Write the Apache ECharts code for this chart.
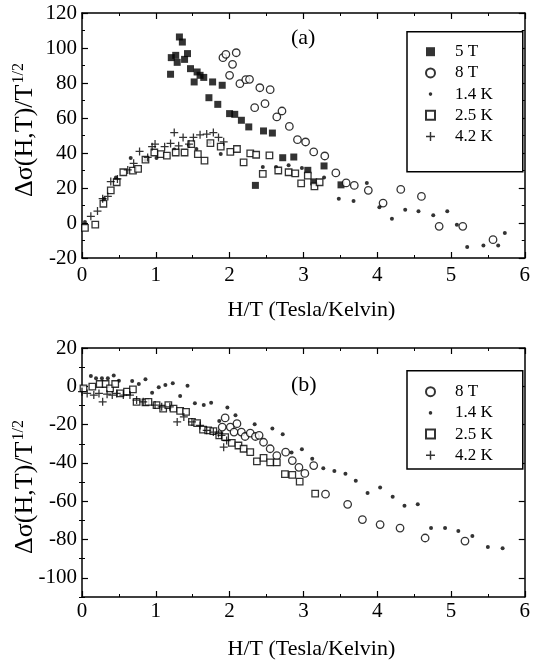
<!DOCTYPE html>
<html>
<head>
<meta charset="utf-8">
<script src="https://cdn.jsdelivr.net/npm/echarts@6/dist/echarts.min.js"></script>
<style>html,body{margin:0;padding:0;background:#fff}#c{width:533px;height:662px}</style>
</head>
<body>
<div id="c"></div>
<script>
// ---- Panel (a) data: [H/T, Δσ/T^1/2]
const a_5T = [[1.20,85.0],[1.21,94.5],[1.27,95.8],[1.29,91.8],[1.32,106.3],[1.36,103.4],[1.39,93.5],[1.43,96.8],[1.47,88.2],[1.52,80.6],[1.56,86.3],[1.60,84.4],[1.65,83.2],[1.77,80.6],[1.90,78.7],[1.72,71.6],[1.84,67.8],[2.00,62.5],[2.07,62.1],[2.16,58.7],[2.26,54.9],[2.46,52.6],[2.58,51.4],[2.35,21.5],[2.72,37.3],[2.87,37.7],[3.06,30.1],[3.14,23.5],[3.28,32.6],[3.51,21.8]];
const a_8T = [[1.91,94.5],[1.95,96.4],[2.09,97.3],[2.04,90.7],[2.00,84.4],[2.14,79.6],[2.22,81.9],[2.27,82.1],[2.41,77.3],[2.55,76.2],[2.34,65.9],[2.48,68.2],[2.64,60.6],[2.71,64.0],[2.81,55.2],[2.92,47.6],[3.03,46.3],[3.14,40.6],[3.29,38.3],[3.44,28.6],[3.58,22.9],[3.69,21.5],[3.88,18.7],[4.08,11.4],[4.32,19.2],[4.60,15.2],[4.84,-1.9],[5.16,-1.9],[5.57,-9.5]];
const a_14K = [[0.04,0.6],[0.30,13.9],[0.46,26.0],[0.66,37.2],[0.86,36.0],[1.01,37.2],[1.25,42.0],[1.45,44.5],[1.55,42.3],[1.73,46.0],[1.88,39.5],[2.45,32.0],[2.63,32.0],[2.80,33.0],[2.98,31.4],[3.28,26.0],[3.48,13.9],[3.68,12.6],[3.86,22.8],[4.03,9.0],[4.20,2.5],[4.38,7.6],[4.56,6.7],[4.76,4.4],[4.95,6.7],[5.08,-1.0],[5.22,-13.7],[5.44,-12.8],[5.64,-12.8],[5.73,-5.7]];
const a_25K = [[0.04,-2.8],[0.18,-0.9],[0.29,11.0],[0.39,18.6],[0.47,23.3],[0.56,29.0],[0.69,29.9],[0.76,30.9],[0.86,36.2],[0.98,40.3],[1.07,39.4],[1.15,38.5],[1.27,40.3],[1.39,40.3],[1.48,45.1],[1.57,39.4],[1.66,35.6],[1.74,45.7],[1.88,43.6],[2.01,40.7],[2.10,42.3],[2.19,34.7],[2.28,39.8],[2.36,39.0],[2.54,38.6],[2.45,28.1],[2.66,30.0],[2.80,29.0],[2.89,28.4],[2.97,22.7],[3.06,27.1],[3.15,20.9],[3.22,23.3]];
const a_42K = [[0.12,3.8],[0.21,6.8],[0.28,13.9],[0.35,15.2],[0.39,23.7],[0.48,25.2],[0.62,30.3],[0.70,34.1],[0.78,40.9],[0.89,37.5],[0.95,43.6],[0.99,45.1],[1.12,43.6],[1.20,45.5],[1.25,51.7],[1.31,44.1],[1.37,48.9],[1.45,45.1],[1.51,48.9],[1.60,50.4],[1.69,50.8],[1.78,51.7],[1.85,48.9],[1.92,46.4]];

// ---- Panel (b) data
const b_8T = [[1.90,-21.3],[1.94,-16.5],[2.01,-21.3],[2.06,-23.9],[2.10,-19.5],[2.16,-23.9],[2.21,-26.2],[2.28,-24.4],[2.35,-26.2],[2.40,-25.6],[2.46,-29.2],[2.55,-32.6],[2.64,-36.2],[2.76,-34.4],[2.85,-38.8],[2.94,-42.3],[3.02,-45.5],[3.14,-41.4],[3.30,-56.3],[3.60,-61.6],[3.80,-69.6],[4.04,-72.2],[4.31,-74.0],[4.65,-79.2],[5.19,-80.8]];
const b_14K = [[0.12,5.4],[0.19,4.2],[0.27,4.2],[0.35,4.2],[0.43,5.6],[0.50,2.9],[0.68,2.8],[0.77,1.2],[0.86,3.7],[0.95,-3.4],[1.04,-0.5],[1.13,0.7],[1.23,1.6],[1.33,-5.1],[1.43,0.3],[1.53,-8.9],[1.65,-9.8],[1.75,-8.6],[1.86,-18.1],[1.97,-11.1],[2.08,-15.1],[2.34,-19.8],[2.58,-22.0],[2.72,-25.0],[2.84,-34.5],[2.98,-32.8],[3.12,-37.8],[3.27,-42.8],[3.42,-44.2],[3.57,-45.6],[3.71,-49.3],[3.87,-55.7],[4.04,-52.8],[4.21,-57.7],[4.37,-62.4],[4.55,-61.6],[4.73,-74.0],[4.92,-74.0],[5.10,-75.5],[5.29,-78.2],[5.50,-83.9],[5.70,-84.5]];
const b_25K = [[0.02,-1.1],[0.14,-0.2],[0.24,1.2],[0.32,1.2],[0.38,-1.1],[0.45,1.2],[0.52,-3.7],[0.61,-2.8],[0.69,-1.6],[0.74,-8.1],[0.86,-8.4],[0.90,-8.1],[1.01,-9.8],[1.10,-11.6],[1.17,-9.8],[1.24,-11.6],[1.33,-12.8],[1.41,-13.4],[1.49,-18.6],[1.56,-19.2],[1.64,-22.6],[1.71,-23.0],[1.78,-23.4],[1.86,-25.6],[1.94,-26.5],[2.03,-29.5],[2.12,-30.9],[2.19,-32.6],[2.28,-34.4],[2.37,-39.2],[2.46,-37.4],[2.55,-39.7],[2.64,-39.7],[2.75,-45.8],[2.85,-46.2],[2.95,-49.8],[3.16,-56.0]];
const b_42K = [[0.00,-2.8],[0.07,-3.7],[0.16,-4.6],[0.23,-3.7],[0.28,-8.1],[0.34,-4.1],[0.41,-4.6],[0.47,-3.7],[0.56,-4.6],[0.65,-4.6],[0.74,-7.2],[0.83,-8.1],[0.99,-9.8],[1.08,-10.7],[1.19,-10.7],[1.29,-18.6],[1.38,-16.0],[1.49,-18.6],[1.60,-20.4],[1.69,-23.0],[1.78,-23.9],[1.85,-24.7],[1.89,-25.6],[1.92,-31.8],[1.96,-28.3]];

// ---- axis ticks / labels
const aYTicks = [-20,0,20,40,60,80,100,120];
const bYMajor = [-100,-80,-60,-40,-20,0,20];
const bYMinor = [-110,-90,-70,-50,-30,-10,10];
const legendA = ['5 T','8 T','1.4 K','2.5 K','4.2 K'];
const legendB = ['8 T','1.4 K','2.5 K','4.2 K'];
const xName = 'H/T (Tesla/Kelvin)';
const yNameMain = 'Δσ(H,T)/T';
const yNameSup = '1/2';

const SERIF = '"Liberation Serif","DejaVu Serif",serif';
const PLUS = 'path://M4.2,0H5.8V4.2H10V5.8H5.8V10H4.2V5.8H0V4.2H4.2Z';
const DOT_ICON = 'path://M0,0L0.001,0M10,10L10.001,10M5,3A2,2,0,1,1,5,7A2,2,0,1,1,5,3Z';

const styles = {
  '5 T':   {symbol:'rect', symbolSize:7, itemStyle:{color:'#000', borderWidth:0}},
  '8 T':   {symbol:'circle', symbolSize:7.5, itemStyle:{color:'#fff', borderColor:'#000', borderWidth:1.3}},
  '1.4 K': {symbol:'circle', symbolSize:4, itemStyle:{color:'#000', borderWidth:0}},
  '2.5 K': {symbol:'rect', symbolSize:6.5, itemStyle:{color:'#fff', borderColor:'#000', borderWidth:1.3}},
  '4.2 K': {symbol:PLUS, symbolSize:8, itemStyle:{color:'#000', borderWidth:0}}
};

const G = [
  {left:82, top:13, width:446, height:245},
  {left:82, top:348, width:446, height:249}
];

const lineS = {show:true, onZero:false, lineStyle:{color:'#000', width:1.5}};
const labelS = {color:'#000', fontFamily:SERIF, fontSize:21};

function xAx(grid, pos, showLabel, name, margin){
  const o = {
    type:'value', gridIndex:grid, position:pos, min:0, max:6, interval:1,
    axisLine:lineS,
    axisTick:{show:true, inside:true, length:6, lineStyle:{color:'#000', width:1.2}},
    minorTick:{show:true, splitNumber:2, length:3, lineStyle:{color:'#000', width:1}},
    splitLine:{show:false},
    axisLabel: showLabel ? Object.assign({margin:margin}, labelS) : {show:false}
  };
  if (name) {
    o.name = name; o.nameLocation = 'middle'; o.nameGap = 41;
    o.nameTextStyle = {color:'#000', fontFamily:SERIF, fontSize:22, padding:[0,0,0,16]};
  }
  return o;
}

const yAxes = [
  {
    type:'value', gridIndex:0, position:'left', min:-20, max:120, interval:20,
    axisLine:lineS,
    axisTick:{show:true, inside:true, length:6, lineStyle:{color:'#000', width:1.2}},
    minorTick:{show:true, splitNumber:2, length:3, lineStyle:{color:'#000', width:1}},
    splitLine:{show:false},
    axisLabel:Object.assign({margin:5, customValues:aYTicks}, labelS)
  },
  {
    type:'value', gridIndex:0, position:'right', min:-20, max:120, interval:20,
    axisLine:lineS,
    axisTick:{show:true, inside:true, length:6, lineStyle:{color:'#000', width:1.2}},
    minorTick:{show:true, splitNumber:2, length:3, lineStyle:{color:'#000', width:1}},
    splitLine:{show:false}, axisLabel:{show:false}
  },
  {
    type:'value', gridIndex:1, position:'left', min:-110, max:20,
    axisLine:lineS,
    axisTick:{show:true, inside:true, length:6, customValues:bYMajor, lineStyle:{color:'#000', width:1.2}},
    splitLine:{show:false},
    axisLabel:Object.assign({margin:5, customValues:bYMajor}, labelS)
  },
  {
    type:'value', gridIndex:1, position:'right', min:-110, max:20,
    axisLine:lineS,
    axisTick:{show:true, inside:true, length:6, customValues:bYMajor, lineStyle:{color:'#000', width:1.2}},
    splitLine:{show:false}, axisLabel:{show:false}
  },
  {
    type:'value', gridIndex:1, position:'left', min:-110, max:20,
    axisLine:{show:false},
    axisTick:{show:true, inside:true, length:3, customValues:bYMinor, lineStyle:{color:'#000', width:1}},
    splitLine:{show:false}, axisLabel:{show:false}
  },
  {
    type:'value', gridIndex:1, position:'right', min:-110, max:20,
    axisLine:{show:false},
    axisTick:{show:true, inside:true, length:3, customValues:bYMinor, lineStyle:{color:'#000', width:1}},
    splitLine:{show:false}, axisLabel:{show:false}
  }
];

function ser(name, data, xi, yi){
  return Object.assign({type:'scatter', name:name, data:data, xAxisIndex:xi, yAxisIndex:yi, animation:false, z:3}, styles[name]);
}

const series = [
  ser('5 T', a_5T, 0, 0),
  ser('8 T', a_8T, 0, 0),
  ser('1.4 K', a_14K, 0, 0),
  ser('2.5 K', a_25K, 0, 0),
  ser('4.2 K', a_42K, 0, 0),
  ser('8 T', b_8T, 2, 2),
  ser('1.4 K', b_14K, 2, 2),
  ser('2.5 K', b_25K, 2, 2),
  ser('4.2 K', b_42K, 2, 2)
];

function legendData(list){
  return list.map(n => n === '1.4 K' ? {name:n, icon:DOT_ICON} : {name:n});
}
const legendCommon = {
  orient:'vertical', itemWidth:9, itemHeight:9, itemGap:4.2,
  borderColor:'#000', borderWidth:1.5, backgroundColor:'#fff',
  selectedMode:false,
  textStyle:{color:'#000', fontFamily:SERIF, fontSize:17, padding:[0,0,0,15]}
};

function yNameText(cx, cy){
  return {type:'text', x:cx, y:cy, rotation:Math.PI/2, z:10,
    style:{text:'{a|' + yNameMain + '}{b|' + yNameSup + '}', align:'center', verticalAlign:'middle',
      fill:'#000',
      rich:{a:{fontFamily:SERIF, fontSize:26, fill:'#000', lineHeight:29},
            b:{fontFamily:SERIF, fontSize:16, fill:'#000', verticalAlign:'top', lineHeight:16, padding:[0,0,0,1]}}}};
}

const option = {
  animation:false,
  backgroundColor:'#fff',
  grid:G,
  xAxis:[
    xAx(0,'bottom',true,xName,7), xAx(0,'top',false,null,0),
    xAx(1,'bottom',true,xName,4), xAx(1,'top',false,null,0)
  ],
  yAxis:yAxes,
  legend:[
    Object.assign({left:407, top:31.7, padding:[11.5,30,26.7,18], data:legendData(legendA)}, legendCommon),
    Object.assign({left:407, top:370.7, padding:[12.5,30,5.3,18], data:legendData(legendB)}, legendCommon)
  ],
  graphic:[
    {type:'text', left:291, top:27, style:{text:'(a)', font:'22px "Liberation Serif", serif', fill:'#000'}},
    {type:'text', left:291, top:374, style:{text:'(b)', font:'22px "Liberation Serif", serif', fill:'#000'}},
    yNameText(25.5, 130),
    yNameText(25.5, 487)
  ],
  series:series
};

const chart = echarts.init(document.getElementById('c'), null, {renderer:'canvas'});
chart.setOption(option);
</script>
</body>
</html>
